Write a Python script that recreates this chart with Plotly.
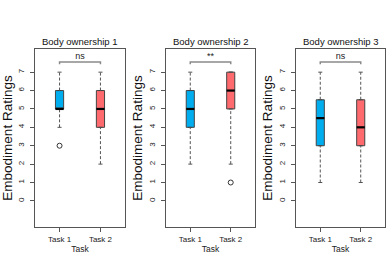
import plotly.graph_objects as go

panels = ["Body ownership 1", "Body ownership 2", "Body ownership 3"]
tasks = ["Task 1", "Task 2"]
q1 = [[5, 4], [4, 5], [3, 3]]
med = [[5, 5], [5, 6], [4.5, 4]]
q3 = [[6, 6], [6, 7], [5.5, 5.5]]
wlo = [[4, 2], [2, 2], [1, 1]]
whi = [[7, 7], [7, 7], [7, 7]]
outliers = [[[3], []], [[], [1]], [[], []]]
signif = ["ns", "**", "ns"]
yticks = [0, 1, 2, 3, 4, 5, 6, 7]
colors = ["#00AEEF", "#FF6A6F"]

W, H = 390, 275
xdom_px = [(35, 125), (166, 255), (296, 385)]
ytop, ybot = 49, 227
ydom = [(H - ybot) / H, (H - ytop) / H]

fig = go.Figure()
bw = 0.2
cap = 0.05
for p in range(3):
    xa = "x" if p == 0 else f"x{p+1}"
    ya = "y" if p == 0 else f"y{p+1}"
    for t in range(2):
        xc = t + 1
        fig.add_trace(go.Scatter(x=[xc, xc, None, xc, xc], y=[wlo[p][t], q1[p][t], None, q3[p][t], whi[p][t]],
                                 mode="lines", line=dict(color="#555555", width=1, dash="3px,2px"),
                                 xaxis=xa, yaxis=ya, showlegend=False, hoverinfo="skip"))
        fig.add_trace(go.Scatter(x=[xc - cap, xc + cap, None, xc - cap, xc + cap],
                                 y=[wlo[p][t], wlo[p][t], None, whi[p][t], whi[p][t]],
                                 mode="lines", line=dict(color="#555555", width=1),
                                 xaxis=xa, yaxis=ya, showlegend=False, hoverinfo="skip"))
        fig.add_trace(go.Box(x=[xc], q1=[q1[p][t]], median=[med[p][t]], q3=[q3[p][t]],
                             lowerfence=[q1[p][t]], upperfence=[q3[p][t]],
                             width=bw, fillcolor=colors[t], line=dict(color="#444444", width=1),
                             boxpoints=False, xaxis=xa, yaxis=ya, showlegend=False))
        fig.add_trace(go.Scatter(x=[xc - bw / 2, xc + bw / 2], y=[med[p][t], med[p][t]],
                                 mode="lines", line=dict(color="black", width=2.2),
                                 xaxis=xa, yaxis=ya, showlegend=False, hoverinfo="skip"))
        if outliers[p][t]:
            fig.add_trace(go.Scatter(x=[xc] * len(outliers[p][t]), y=outliers[p][t], mode="markers",
                                     marker=dict(symbol="circle-open", size=5, color="#333333", line=dict(width=1)),
                                     xaxis=xa, yaxis=ya, showlegend=False))
    fig.add_trace(go.Scatter(x=[1, 1, 2, 2], y=[7.43, 7.55, 7.55, 7.43], mode="lines",
                             line=dict(color="#8a8a8a", width=1.5),
                             xaxis=xa, yaxis=ya, showlegend=False, hoverinfo="skip"))
    fig.add_trace(go.Scatter(x=[1.5], y=[7.85], mode="text", text=[signif[p]],
                             textfont=dict(size=9, color="#222222", family="Liberation Sans, Arial"),
                             xaxis=xa, yaxis=ya, showlegend=False, hoverinfo="skip"))

    axis_common = dict(showline=True, mirror=True, linecolor="#555555", linewidth=1,
                       ticks="outside", ticklen=4, tickcolor="#555555",
                       tickfont=dict(size=8, color="#222222"), showgrid=False, zeroline=False)
    x0, x1 = xdom_px[p]
    fig.layout[("xaxis" if p == 0 else f"xaxis{p+1}")] = dict(
        domain=[x0 / W, x1 / W], range=[0.4, 2.6], tickvals=[1, 2], ticktext=tasks,
        anchor=ya, title=dict(text="Task", font=dict(size=8.5, color="#222222"), standoff=2), **axis_common)
    fig.layout[("yaxis" if p == 0 else f"yaxis{p+1}")] = dict(
        domain=ydom, range=[-1.42, 8.26], tickvals=yticks, tickangle=-90, anchor=xa,
        ticklabelstandoff=3,
        title=dict(text="Embodiment Ratings", font=dict(size=13.5, color="#111111"), standoff=2),
        **axis_common)
    fig.add_annotation(text=panels[p], x=(x0 + x1) / 2 / W, y=(H - 42) / H, xref="paper", yref="paper",
                       showarrow=False, font=dict(size=9.5, color="#111111"), xanchor="center", yanchor="middle")

fig.update_layout(width=W, height=H, margin=dict(l=0, r=0, t=0, b=0),
                  plot_bgcolor="white", paper_bgcolor="white",
                  font=dict(family="Liberation Sans, Arial, sans-serif"))
fig.write_html("out.html", config={"displayModeBar": False},
               post_script="document.body.style.margin='0';document.body.style.overflow='hidden';")
